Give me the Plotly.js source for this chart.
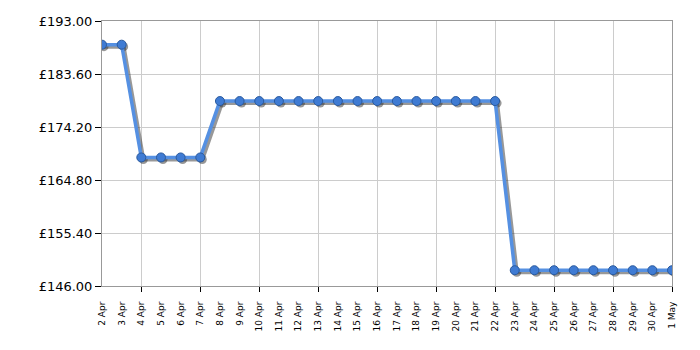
<!DOCTYPE html>
<html>
<head>
<meta charset="utf-8">
<script src="https://cdn.plot.ly/plotly-3.0.1.min.js"></script>
<style>html,body{margin:0;padding:0;background:#fff;}#chart{width:700px;height:350px;}</style>
</head>
<body>
<div id="chart"></div>
<script>
const dates = ["2 Apr","3 Apr","4 Apr","5 Apr","6 Apr","7 Apr","8 Apr","9 Apr","10 Apr","11 Apr","12 Apr","13 Apr","14 Apr","15 Apr","16 Apr","17 Apr","18 Apr","19 Apr","20 Apr","21 Apr","22 Apr","23 Apr","24 Apr","25 Apr","26 Apr","27 Apr","28 Apr","29 Apr","30 Apr","1 May"];
const prices = [188.8,188.8,168.8,168.8,168.8,168.8,178.8,178.8,178.8,178.8,178.8,178.8,178.8,178.8,178.8,178.8,178.8,178.8,178.8,178.8,178.8,148.8,148.8,148.8,148.8,148.8,148.8,148.8,148.8,148.8];
const yTicks = [146.0,155.4,164.8,174.2,183.6,193.0];
const yTickText = ["£146.00","£155.40","£164.80","£174.20","£183.60","£193.00"];
const gridEvery = 3;
const gridStart = 2;

const idx = dates.map((d,i)=>i);
const gridVals = idx.filter(i => i >= gridStart && (i - gridStart) % gridEvery === 0);

const W = 700, H = 350;
const margin = {l:102, r:28, t:21, b:64, pad:0};
const plotW = W - margin.l - margin.r;
const plotH = H - margin.t - margin.b;
const xr = [0, dates.length - 1];
const yr = [yTicks[0], yTicks[yTicks.length-1]];
// shadow offset in pixels converted to axis units
const sx = 2 * (xr[1]-xr[0]) / plotW;
const sy = 2 * (yr[1]-yr[0]) / plotH;

const fam = "DejaVu Sans, Verdana, sans-serif";

const anchorTrace = {
  x: idx, y: prices.map(()=>null), xaxis: 'x', yaxis: 'y', type: 'scatter', mode: 'lines',
  hoverinfo: 'skip', showlegend: false
};
const shadow = {
  x: idx, y: prices, xaxis: 'x2', yaxis: 'y2', type: 'scatter', mode: 'lines+markers',
  line: {color: 'rgba(50,50,50,0.5)', width: 4},
  marker: {size: 9, color: 'rgba(50,50,50,0.5)', line: {width: 0}},
  hoverinfo: 'skip', showlegend: false
};
const main = {
  x: idx, y: prices, xaxis: 'x3', yaxis: 'y3', type: 'scatter', mode: 'lines+markers',
  line: {color: '#5590e2', width: 3.5},
  marker: {size: 9, color: '#3f7bd3', line: {color: '#2a5a9e', width: 1}},
  showlegend: false
};

const layout = {
  width: W, height: H, margin: margin,
  paper_bgcolor: '#fff', plot_bgcolor: '#fff',
  showlegend: false,
  font: {family: fam, color: '#000'},
  xaxis: {
    type: 'linear', range: xr, anchor: 'y',
    tickmode: 'array', tickvals: idx, ticktext: dates,
    tickangle: -90, tickfont: {size: 9, family: fam, color: '#000'},
    ticks: 'outside', ticklen: 11, tickcolor: 'rgba(0,0,0,0)', showgrid: false, zeroline: false,
    showline: true, linecolor: '#999', linewidth: 1, mirror: true
  },
  yaxis: {
    type: 'linear', range: yr, anchor: 'x',
    tickmode: 'array', tickvals: yTicks, ticktext: yTickText,
    tickfont: {size: 13, family: fam, color: '#000'},
    ticks: 'outside', ticklen: 6, tickcolor: '#000', tickwidth: 1,
    showgrid: true, gridcolor: '#cccccc', gridwidth: 1, zeroline: false,
    showline: true, linecolor: '#999', linewidth: 1, mirror: true
  },
  xaxis2: {
    type: 'linear', overlaying: 'x', anchor: 'y2', range: [xr[0]-sx, xr[1]-sx],
    visible: false, showgrid: false, zeroline: false
  },
  yaxis2: {
    type: 'linear', overlaying: 'y', anchor: 'x2', range: [yr[0]+sy, yr[1]+sy],
    visible: false, showgrid: false, zeroline: false
  },
  xaxis3: {
    type: 'linear', overlaying: 'x', anchor: 'y3', range: xr,
    tickmode: 'array', tickvals: gridVals, showticklabels: false,
    ticks: 'outside', ticklen: 5, tickcolor: '#000', tickwidth: 1,
    showgrid: true, gridcolor: '#cccccc', gridwidth: 1, zeroline: false,
    showline: false
  },
  yaxis3: {
    type: 'linear', overlaying: 'y', anchor: 'x3', range: yr,
    showticklabels: false, ticks: '', showgrid: false, zeroline: false, showline: false
  }
};

Plotly.newPlot('chart', [anchorTrace, shadow, main], layout, {staticPlot: true, displayModeBar: false});
</script>
</body>
</html>
